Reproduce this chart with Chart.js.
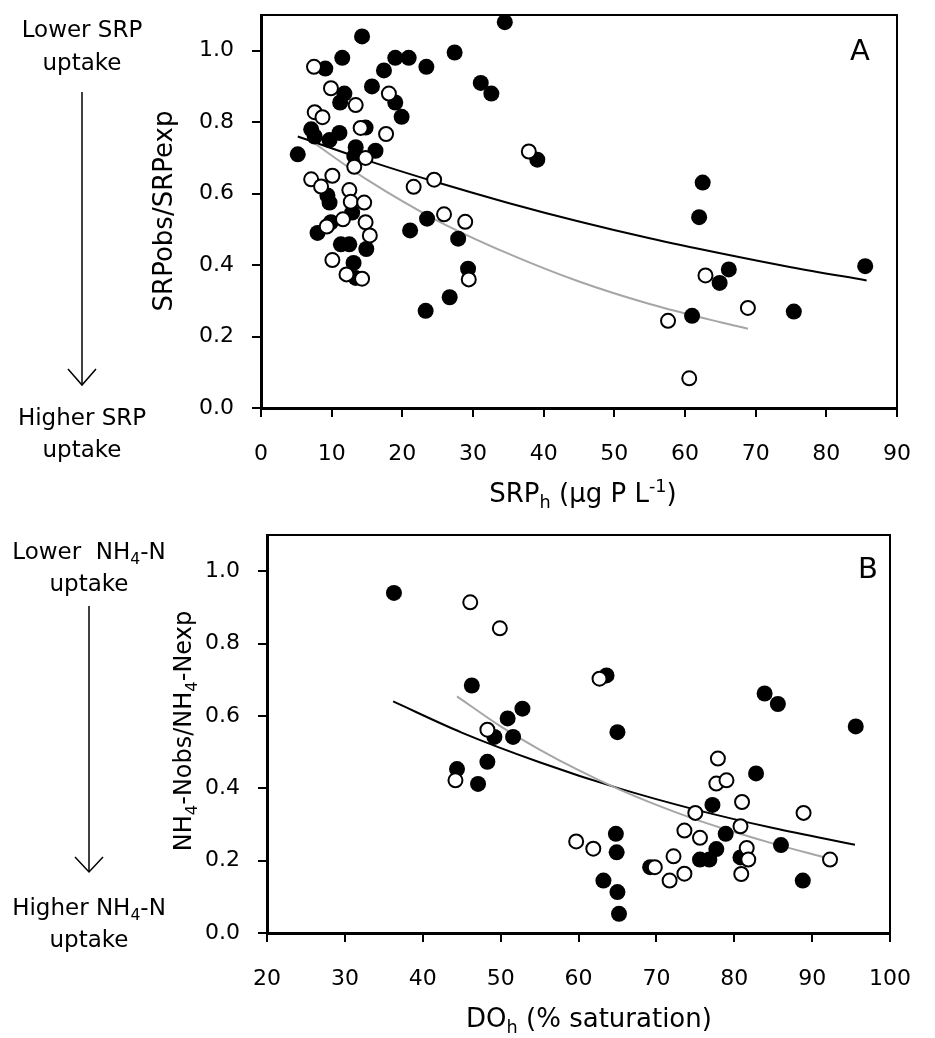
<!DOCTYPE html>
<html>
<head>
<meta charset="utf-8">
<script src="https://cdn.jsdelivr.net/npm/chart.js@4.4.1/dist/chart.umd.min.js"></script>
<style>
  body { margin: 0; background: #fff; }
  #wrap { position: relative; width: 935px; height: 1038px; font-family: "DejaVu Sans", sans-serif; color: #000; overflow: hidden; }
  canvas { position: absolute; left: 0; }
  .txt { position: absolute; white-space: nowrap; transform: translate(-50%, -50%); line-height: 1; }
  .rot { transform: translate(-50%, -50%) rotate(-90deg); }
  sub, sup { font-size: 0.68em; line-height: 0; }
  svg { position: absolute; left: 0; top: 0; }
</style>
</head>
<body>
<div id="wrap">
  <canvas id="chartA" width="935" height="520" style="top:0"></canvas>
  <canvas id="chartB" width="935" height="518" style="top:520px"></canvas>

  <svg width="935" height="1038" fill="none" stroke="#000" stroke-width="1.5">
    <line x1="82" y1="92" x2="82" y2="385"/>
    <polyline points="68,369 82,385 96,369"/>
    <line x1="89" y1="606" x2="89" y2="872"/>
    <polyline points="75,857 89,872 103,857"/>
  </svg>

  <div class="txt" style="left:82px;top:29px;font-size:23px">Lower SRP</div>
  <div class="txt" style="left:82px;top:62px;font-size:23px">uptake</div>
  <div class="txt" style="left:82px;top:417px;font-size:23px">Higher SRP</div>
  <div class="txt" style="left:82px;top:449px;font-size:23px">uptake</div>

  <div class="txt" style="left:89px;top:551px;font-size:23px">Lower&nbsp;&nbsp;NH<sub>4</sub>-N</div>
  <div class="txt" style="left:89px;top:583px;font-size:23px">uptake</div>
  <div class="txt" style="left:89px;top:907px;font-size:23px">Higher NH<sub>4</sub>-N</div>
  <div class="txt" style="left:89px;top:939px;font-size:23px">uptake</div>

  <div class="txt rot" style="left:163px;top:211px;font-size:26px">SRPobs/SRPexp</div>
  <div class="txt rot" style="left:183px;top:731px;font-size:24px">NH<sub>4</sub>-Nobs/NH<sub>4</sub>-Nexp</div>

  <div class="txt" style="left:583px;top:493px;font-size:26px">SRP<sub>h</sub> (µg P L<sup>-1</sup>)</div>
  <div class="txt" style="left:589px;top:1018px;font-size:26px">DO<sub>h</sub> (% saturation)</div>

  <div class="txt" style="left:860px;top:50px;font-size:29px">A</div>
  <div class="txt" style="left:868px;top:568px;font-size:29px">B</div>
</div>

<script>
// ---- panel A: SRP ratio vs. SRP_h ----
const srpTicks = [0, 10, 20, 30, 40, 50, 60, 70, 80, 90];
const ratioTicks = [0, 0.2, 0.4, 0.6, 0.8, 1.0];

const srpFilledX = [14.3, 34.5, 11.5, 9.1, 19.0, 20.9, 17.4, 23.4, 27.4, 31.1, 32.6, 15.7, 11.8, 11.2, 19.0, 19.9,
  7.1, 9.7, 11.1, 14.8, 13.4, 16.2, 13.2, 5.2, 7.6, 9.4, 9.7, 12.9, 8.0, 9.9, 21.1, 23.5, 27.9, 11.3, 12.5, 14.9,
  13.1, 13.4, 29.3, 26.7, 23.3, 39.1, 62.5, 62.0, 85.5, 66.2, 64.9, 75.4, 61.0];
const srpFilledY = [1.04, 1.08, 0.98, 0.95, 0.98, 0.98, 0.945, 0.955, 0.995, 0.91, 0.88, 0.90, 0.88, 0.855, 0.855, 0.815,
  0.78, 0.75, 0.77, 0.785, 0.73, 0.72, 0.705, 0.71, 0.76, 0.595, 0.575, 0.547, 0.49, 0.52, 0.497, 0.53, 0.474, 0.458, 0.458, 0.445,
  0.406, 0.364, 0.39, 0.31, 0.272, 0.695, 0.631, 0.534, 0.397, 0.388, 0.35, 0.27, 0.258];

const srpOpenX = [7.5, 9.9, 18.1, 13.4, 7.6, 8.7, 14.1, 17.7, 14.8, 13.2, 7.1, 10.1, 8.5, 12.5, 12.7, 14.6, 11.6,
  9.3, 14.8, 15.4, 21.6, 24.5, 25.9, 28.9, 10.1, 12.1, 14.3, 29.4, 37.9, 62.9, 68.9, 57.6, 60.6];
const srpOpenY = [0.955, 0.895, 0.88, 0.848, 0.828, 0.814, 0.784, 0.767, 0.70, 0.675, 0.64, 0.65, 0.62, 0.61, 0.577, 0.575, 0.528,
  0.508, 0.52, 0.483, 0.619, 0.639, 0.542, 0.521, 0.414, 0.374, 0.362, 0.36, 0.718, 0.371, 0.28, 0.244, 0.083];

// fitted curves as read along their length
const srpFitBlackX = [5.2, 15, 25, 35, 45, 55, 65, 75, 85.7];
const srpFitBlackY = [0.76, 0.693, 0.631, 0.574, 0.522, 0.475, 0.433, 0.394, 0.357];
const srpFitGreyX = [6.9, 15, 25, 35, 45, 55, 65, 68.9];
const srpFitGreyY = [0.75, 0.639, 0.524, 0.432, 0.354, 0.291, 0.24, 0.222];

// ---- panel B: NH4-N ratio vs. DO_h ----
const doTicks = [20, 30, 40, 50, 60, 70, 80, 90, 100];

const nhFilledX = [36.3, 46.3, 44.4, 47.1, 52.8, 50.9, 49.2, 51.6, 48.3, 63.6, 65.0, 64.8, 64.9, 63.2, 65.0, 65.2,
  69.2, 83.9, 85.6, 95.6, 82.8, 77.2, 78.9, 77.7, 75.6, 76.8, 80.8, 86.0, 88.8];
const nhFilledY = [0.94, 0.684, 0.453, 0.412, 0.62, 0.593, 0.542, 0.542, 0.473, 0.712, 0.555, 0.274, 0.223, 0.145, 0.113, 0.053,
  0.182, 0.662, 0.633, 0.571, 0.441, 0.354, 0.274, 0.232, 0.203, 0.203, 0.209, 0.243, 0.145];

const nhOpenX = [46.1, 44.2, 49.9, 48.3, 62.7, 59.7, 61.9, 69.8, 71.7, 72.2, 73.6, 73.6, 75.0, 77.9, 77.7, 79.0,
  81.0, 88.9, 75.6, 80.8, 81.6, 81.8, 80.9, 92.3];
const nhOpenY = [0.914, 0.422, 0.842, 0.562, 0.703, 0.253, 0.233, 0.182, 0.145, 0.212, 0.164, 0.283, 0.332, 0.482, 0.413, 0.422,
  0.362, 0.332, 0.263, 0.295, 0.235, 0.203, 0.163, 0.203];

const nhFitBlackX = [36.2, 45, 55, 65, 75, 85, 95.5];
const nhFitBlackY = [0.64, 0.554, 0.472, 0.401, 0.341, 0.29, 0.244];
const nhFitGreyX = [44.4, 50, 55, 60, 65, 70, 75, 80, 85, 91.9];
const nhFitGreyY = [0.654, 0.571, 0.507, 0.45, 0.399, 0.354, 0.314, 0.279, 0.247, 0.207];

const pts = (xs, ys) => xs.map((x, i) => ({ x, y: ys[i] }));

// top and right edges of the plot box
const frame = {
  id: 'frame',
  beforeDatasetsDraw(chart) {
    const { ctx, chartArea: a } = chart;
    ctx.save();
    ctx.strokeStyle = '#000';
    ctx.lineWidth = 2;
    ctx.beginPath();
    ctx.moveTo(a.left, a.top);
    ctx.lineTo(a.right, a.top);
    ctx.lineTo(a.right, a.bottom);
    ctx.stroke();
    ctx.restore();
  }
};

function axis(min, max, tickValues, fmt, pad, fitSize, horizontal) {
  return {
    type: 'linear',
    min: min,
    max: max,
    afterBuildTicks: s => { s.ticks = tickValues.map(v => ({ value: v })); },
    afterFit: s => {
      if (horizontal) {
        s.height = fitSize;
      } else {
        s.width = fitSize;
        // label padding would otherwise push the plot top down
        s.paddingTop = 0;
        s.paddingBottom = 0;
      }
    },
    ticks: {
      color: '#000',
      font: { family: 'DejaVu Sans', size: 22 },
      padding: pad,
      autoSkip: false,
      maxRotation: 0,
      callback: fmt
    },
    grid: { display: true, drawOnChartArea: false, drawTicks: true, tickLength: 9, color: '#000', lineWidth: 2 },
    border: { display: true, color: '#000', width: 3 }
  };
}

function panel(id, sets, xMin, xMax, xTicks, padding) {
  new Chart(document.getElementById(id), {
    type: 'scatter',
    data: {
      datasets: [
        { data: pts(sets.openX, sets.openY), pointRadius: 7, pointBackgroundColor: '#fff',
          pointBorderColor: '#000', pointBorderWidth: 2, order: 0 },
        { data: pts(sets.filledX, sets.filledY), pointRadius: 8, pointBackgroundColor: '#000',
          pointBorderColor: '#000', pointBorderWidth: 0, order: 1 },
        { data: pts(sets.greyX, sets.greyY), showLine: true, borderColor: '#a6a6a6', borderWidth: 2,
          pointRadius: 0, tension: 0.4, cubicInterpolationMode: 'monotone', order: 2 },
        { data: pts(sets.blackX, sets.blackY), showLine: true, borderColor: '#000', borderWidth: 2,
          pointRadius: 0, tension: 0.4, cubicInterpolationMode: 'monotone', order: 3 }
      ]
    },
    options: {
      responsive: false,
      animation: false,
      events: [],
      layout: { padding: padding },
      plugins: { legend: { display: false }, tooltip: { enabled: false } },
      scales: {
        x: axis(xMin, xMax, xTicks, v => String(v), 24, 60, true),
        y: axis(0, 1.1, ratioTicks, v => v.toFixed(1), 18, 100, false)
      }
    },
    plugins: [frame]
  });
}

panel('chartA', {
  filledX: srpFilledX, filledY: srpFilledY, openX: srpOpenX, openY: srpOpenY,
  blackX: srpFitBlackX, blackY: srpFitBlackY, greyX: srpFitGreyX, greyY: srpFitGreyY
}, 0, 90, srpTicks, { top: 15, right: 31, left: 161, bottom: 52 });

panel('chartB', {
  filledX: nhFilledX, filledY: nhFilledY, openX: nhOpenX, openY: nhOpenY,
  blackX: nhFitBlackX, blackY: nhFitBlackY, greyX: nhFitGreyX, greyY: nhFitGreyY
}, 20, 100, doTicks, { top: 15, right: 23, left: 167, bottom: 45 });
</script>
</body>
</html>
